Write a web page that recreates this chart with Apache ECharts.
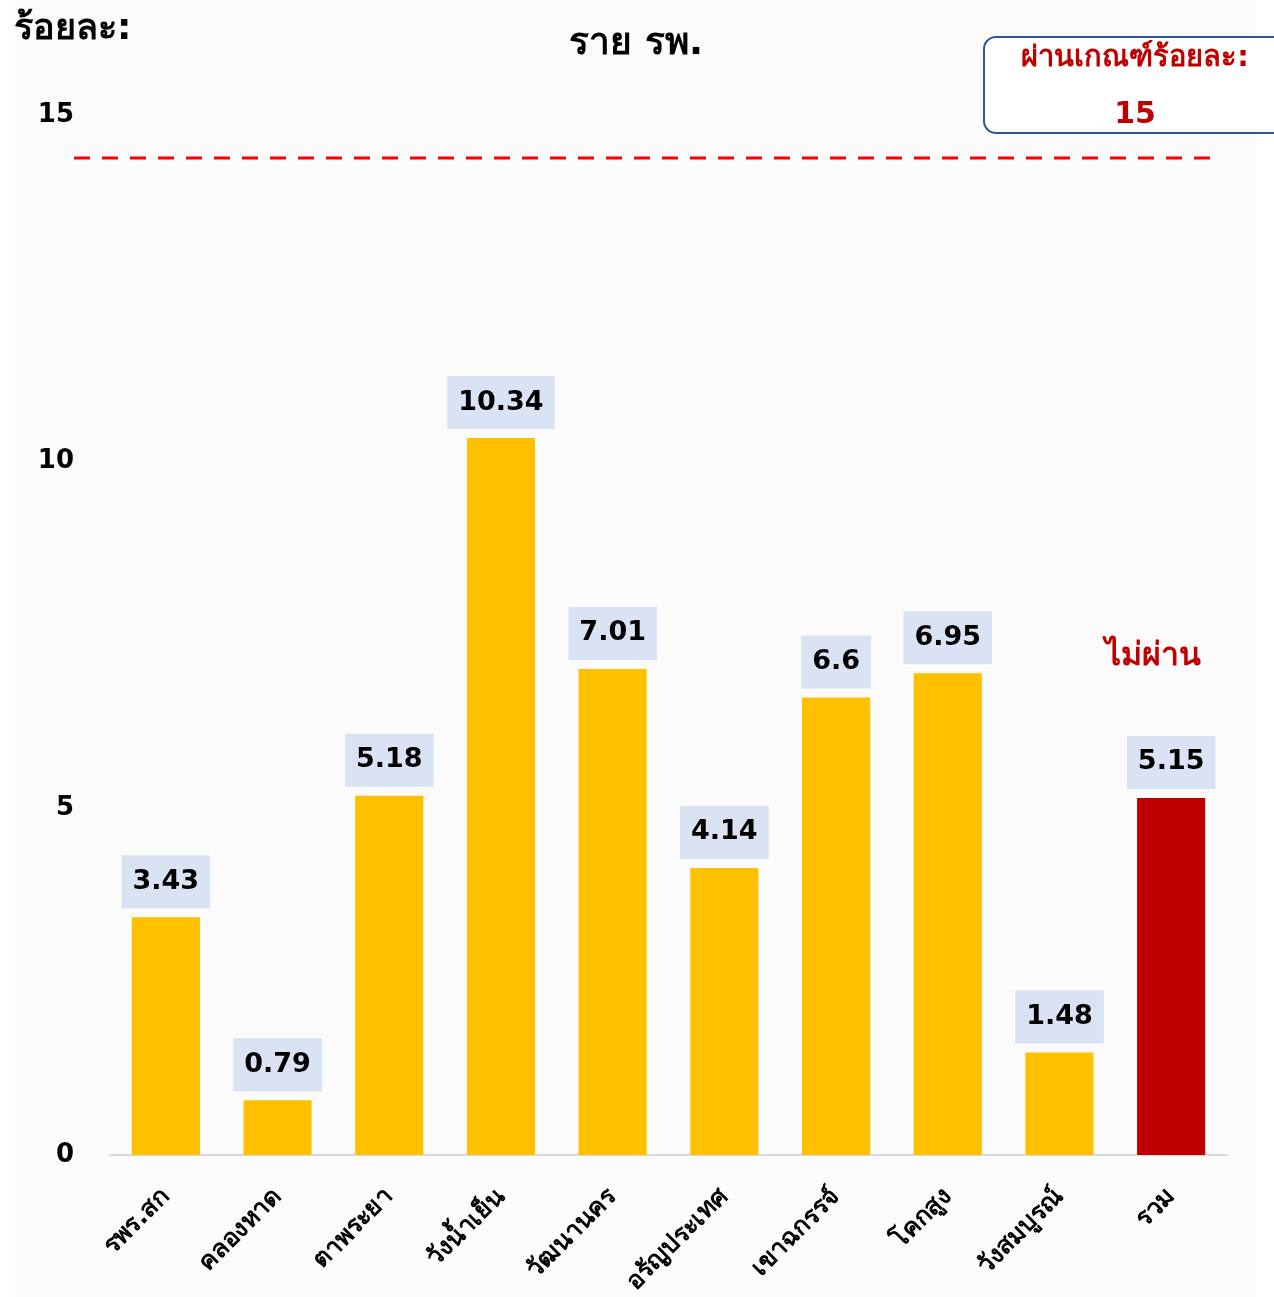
<!DOCTYPE html>
<html>
<head>
<meta charset="utf-8">
<script src="https://cdn.jsdelivr.net/npm/echarts@6/dist/echarts.min.js"></script>
<style>
  html, body { margin: 0; padding: 0; background: #ffffff; }
  #chart { width: 1274px; height: 1297px; }
</style>
</head>
<body>
<div id="chart"></div>
<script>
const categories = ['รพร.สก', 'คลองหาด', 'ตาพระยา', 'วังน้ำเย็น', 'วัฒนานคร', 'อรัญประเทศ', 'เขาฉกรรจ์', 'โคกสูง', 'วังสมบูรณ์', 'รวม']
const values = [3.43, 0.79, 5.18, 10.34, 7.01, 4.14, 6.6, 6.95, 1.48, 5.15]
const yTicks = [0, 5, 10, 15]
const thresholdLine = 14.38
const criteriaText = ['ผ่านเกณฑ์ร้อยละ:', '15']
const failText = 'ไม่ผ่าน'

const FONT = '"DejaVu Sans", "Noto Sans", sans-serif'
const chart = echarts.init(document.getElementById('chart'))

const barData = values.map((v, i) => ({
  value: v,
  itemStyle: { color: i === values.length - 1 ? '#c00000' : '#ffc000' },
}))

chart.setOption({
  animation: false,
  textStyle: { fontFamily: FONT },
  grid: { left: 110, right: 47, top: 115, bottom: 142, containLabel: false, outerBoundsMode: 'none' },
  xAxis: {
    type: 'category',
    data: categories,
    axisLine: { lineStyle: { color: '#d9d9d9', width: 2 } },
    axisTick: { show: false },
    axisLabel: {
      rotate: 45,
      margin: 38,
      color: '#000000',
      fontSize: 25,
      fontWeight: 'bold',
      fontFamily: FONT,
      interval: 0,
    },
  },
  yAxis: {
    type: 'value',
    min: yTicks[0],
    max: yTicks[yTicks.length - 1],
    interval: 5,
    axisLine: { show: false },
    axisTick: { show: false },
    splitLine: { show: false },
    axisLabel: {
      margin: 36,
      color: '#000000',
      fontSize: 26,
      fontWeight: 'bold',
      fontFamily: FONT,
      padding: [6, 0, 0, 0],
    },
  },
  series: [
    {
      type: 'bar',
      data: barData,
      barWidth: '61%',
      label: {
        show: true,
        position: 'top',
        distance: 9,
        color: '#000000',
        fontSize: 27,
        fontWeight: 'bold',
        fontFamily: FONT,
        backgroundColor: '#dae3f3',
        padding: [13, 11],
      },
    },
  ],
})

const lineY = chart.convertToPixel({ yAxisIndex: 0 }, thresholdLine)

chart.setOption({
  graphic: [
    {
      type: 'rect',
      z: -10,
      silent: true,
      shape: { x: 15, y: 0, width: 1241, height: 1297 },
      style: { fill: '#fbfbfb' },
    },
    {
      type: 'line',
      z: 5,
      silent: true,
      shape: { x1: 74, y1: lineY, x2: 1211, y2: lineY },
      style: { stroke: '#ff0000', lineWidth: 3, lineDash: [16, 12] },
    },
    {
      type: 'text',
      left: 14,
      top: 12,
      style: { text: 'ร้อยละ:', fill: '#000000', font: 'bold 36px ' + FONT },
    },
    {
      type: 'text',
      x: 636,
      y: 44,
      style: { text: 'ราย รพ.', fill: '#000000', font: 'bold 37px ' + FONT, align: 'center', verticalAlign: 'middle' },
    },
    {
      type: 'rect',
      z: 5,
      shape: { x: 984, y: 37, width: 310, height: 96, r: 12 },
      style: { fill: '#ffffff', stroke: '#2f5597', lineWidth: 2 },
    },
    {
      type: 'text',
      z: 6,
      x: 1135,
      y: 58,
      style: { text: criteriaText[0], fill: '#c00000', font: 'bold 29px ' + FONT, align: 'center', verticalAlign: 'middle' },
    },
    {
      type: 'text',
      z: 6,
      x: 1135,
      y: 115,
      style: { text: criteriaText[1], fill: '#c00000', font: 'bold 30px ' + FONT, align: 'center', verticalAlign: 'middle' },
    },
    {
      type: 'text',
      z: 6,
      x: 1153,
      y: 657,
      style: { text: failText, fill: '#c00000', font: 'bold 32px ' + FONT, align: 'center', verticalAlign: 'middle' },
    },
  ],
})
</script>
</body>
</html>
